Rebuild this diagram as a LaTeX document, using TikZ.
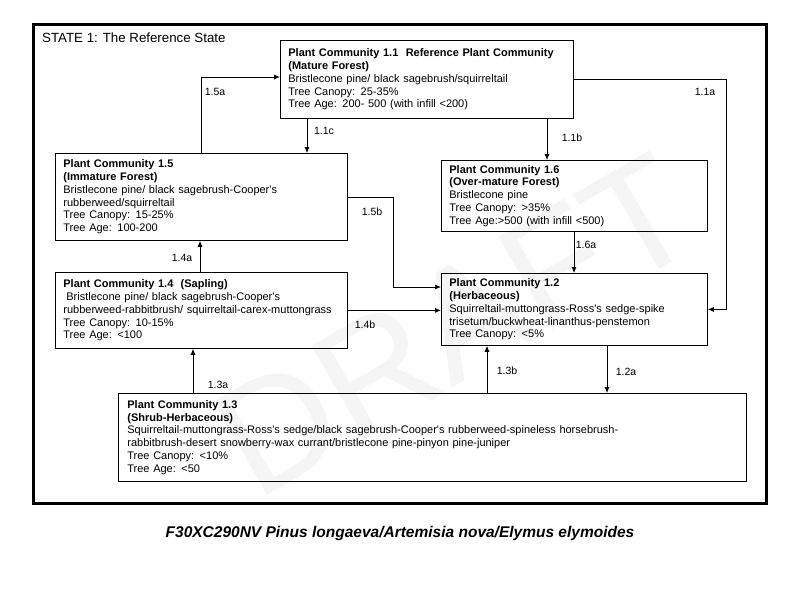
\documentclass[tikz,border=0pt]{standalone}
\usepackage{fontspec}
\setmainfont{Liberation Sans}
\usetikzlibrary{arrows.meta}
\newcommand{\apos}{\textquotesingle}
\begin{document}
\begin{tikzpicture}[x=1pt,y=-1pt,
  pcbox/.style={draw=black, line width=0.8pt, anchor=north west, align=left,
    inner xsep=8pt, inner ysep=0pt, font=\fontsize{11}{12.8}\selectfont},
  arr/.style={draw=black, line width=0.8pt, -{Latex[length=6pt,width=5pt]}},
  lbl/.style={font=\fontsize{10.5}{12}\selectfont, inner sep=0pt},
  wmark/.style={text=gray!8, rotate=30, font=\fontsize{156}{156}\selectfont, inner sep=0pt},
]
\useasboundingbox (0,0) rectangle (800,600);
\fill[white] (0,0) rectangle (800,600);

% watermark
\node[wmark] (wm) at (455,325) {DRAFT};

% frame
\draw[line width=3pt] (33,24) rectangle (766,503);
\node[anchor=west, inner sep=0pt, font=\fontsize{13.3}{15}\selectfont] (title) at (42,38) {STATE 1: The Reference State};

% boxes
\node[pcbox, minimum width=293pt, minimum height=78pt, text width=277pt] (b11) at (280,40)
 {\textbf{Plant Community 1.1\ \ Reference Plant Community}\\
  \textbf{(Mature Forest)}\\
  Bristlecone pine/ black sagebrush/squirreltail\\
  Tree Canopy: 25-35\%\\
  Tree Age: 200- 500 (with infill <200)};

\node[pcbox, minimum width=292pt, minimum height=87pt, text width=276pt] (b15) at (55,153)
 {\textbf{Plant Community 1.5}\\
  \textbf{(Immature Forest)}\\
  Bristlecone pine/ black sagebrush-Cooper\apos s\\
  rubberweed/squirreltail\\
  Tree Canopy: 15-25\%\\
  Tree Age: 100-200};

\node[pcbox, minimum width=266pt, minimum height=71pt, text width=250pt] (b16) at (441,160)
 {\textbf{Plant Community 1.6}\\
  \textbf{(Over-mature Forest)}\\
  Bristlecone pine\\
  Tree Canopy: >35\%\\
  Tree Age:>500 (with infill <500)};

\node[pcbox, minimum width=292pt, minimum height=76pt, text width=276pt] (b14) at (55,272)
 {\textbf{Plant Community 1.4\ \ (Sapling)}\\
  \hspace*{3pt}Bristlecone pine/ black sagebrush-Cooper\apos s\\
  rubberweed-rabbitbrush/ squirreltail-carex-muttongrass\\
  Tree Canopy: 10-15\%\\
  Tree Age: <100};

\node[pcbox, minimum width=266pt, minimum height=72pt, text width=250pt] (b12) at (441,273)
 {\textbf{Plant Community 1.2}\\
  \textbf{(Herbaceous)}\\
  Squirreltail-muttongrass-Ross\apos s sedge-spike\\
  trisetum/buckwheat-linanthus-penstemon\\
  Tree Canopy: <5\%};

\node[pcbox, minimum width=627pt, minimum height=88pt, text width=610pt, inner xsep=9pt] (b13) at (118,393)
 {\textbf{Plant Community 1.3}\\
  \textbf{(Shrub-Herbaceous)}\\
  Squirreltail-muttongrass-Ross\apos s sedge/black sagebrush-Cooper\apos s rubberweed-spineless horsebrush-\\
  rabbitbrush-desert snowberry-wax currant/bristlecone pine-pinyon pine-juniper\\
  Tree Canopy: <10\%\\
  Tree Age: <50};

% connector guide coordinates
\coordinate (k15a) at (201,77);
\coordinate (k11c) at (307,0);
\coordinate (k11b) at (547,0);
\coordinate (k11a) at (726,0);
\coordinate (k16a) at (574,0);
\coordinate (k15b) at (393,287);
\coordinate (k14a) at (200,0);
\coordinate (k13a) at (193,0);
\coordinate (k13b) at (487,0);
\coordinate (k12a) at (607,0);

% connectors
\draw[arr] (b15.north -| k15a) |- (k15a -| b11.west);
\draw[arr] (b11.south -| k11c) -- (b15.north -| k11c);
\draw[arr] (b11.south -| k11b) -- (b16.north -| k11b);
\draw[arr] (b11.east) -| (k11a |- b12.east) -- (b12.east);
\draw[arr] (b16.south -| k16a) -- (b12.north -| k16a);
\draw[arr] (b15.east) -| (k15b) -- (k15b -| b12.west);
\draw[arr] (b14.north -| k14a) -- (b15.south -| k14a);
\draw[arr] (b14.east) -- (b14.east -| b12.west);
\draw[arr] (b13.north -| k13a) -- (b14.south -| k13a);
\draw[arr] (b13.north -| k13b) -- (b12.south -| k13b);
\draw[arr] (b12.south -| k12a) -- (b13.north -| k12a);

% connector labels
\node[lbl] (l15a) at (215,92) {1.5a};
\node[lbl] (l11c) at (324,131) {1.1c};
\node[lbl] (l11b) at (572,138) {1.1b};
\node[lbl] (l11a) at (705,92) {1.1a};
\node[lbl] (l15b) at (372,212) {1.5b};
\node[lbl] (l16a) at (586,245) {1.6a};
\node[lbl] (l14a) at (182,258) {1.4a};
\node[lbl] (l14b) at (365,325) {1.4b};
\node[lbl] (l13a) at (218,385) {1.3a};
\node[lbl] (l13b) at (507,371) {1.3b};
\node[lbl] (l12a) at (626,372) {1.2a};

% caption
\node[font=\fontsize{15.5}{18}\selectfont\bfseries\itshape, inner sep=0pt] (cap) at (400,533)
 {F30XC290NV Pinus longaeva/Artemisia nova/Elymus elymoides};
\end{tikzpicture}
\end{document}
